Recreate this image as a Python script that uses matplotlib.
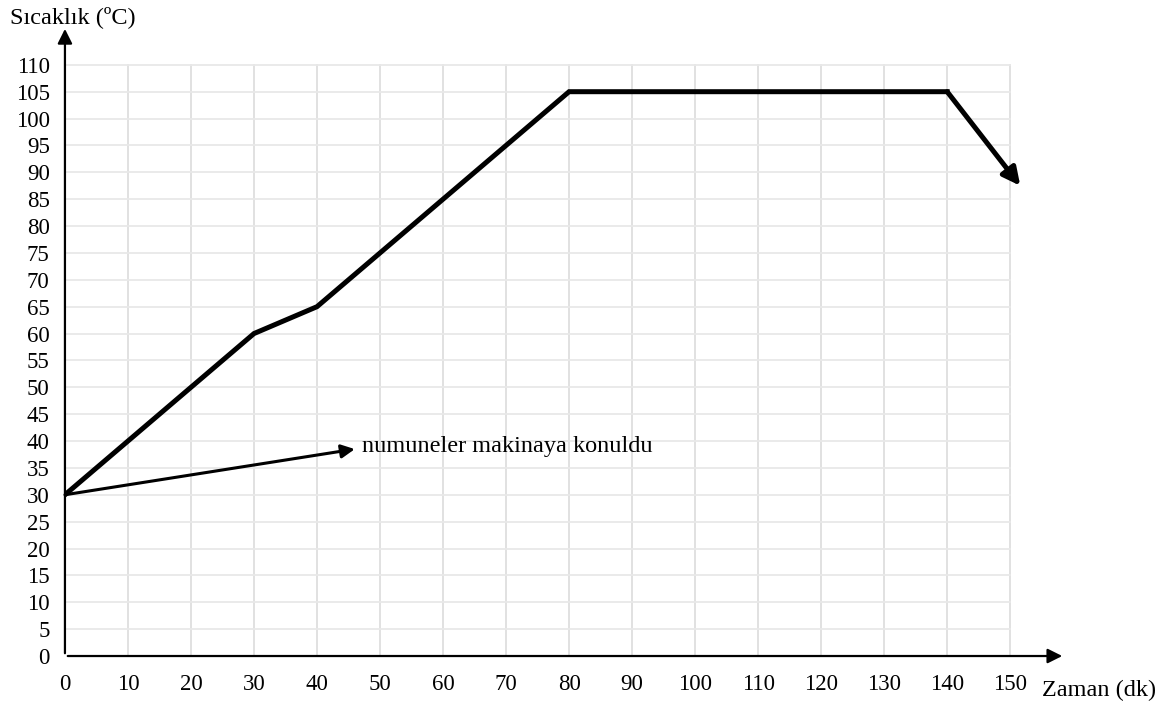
import matplotlib
matplotlib.use("Agg")
from matplotlib import pyplot as plt

# Temperature profile (time in minutes, temperature in C)
times = [0, 30, 40, 80, 140]
temps = [30, 60, 65, 105, 105]
end_arrow = (151.6, 87.5)          # tip of the cooling arrow
note_start = (0, 30)
note_tip = (46, 38.5)
note_text = "numuneler makinaya konuldu"

x_ticks = list(range(0, 151, 10))
y_ticks = list(range(0, 111, 5))

plt.rcParams['font.family'] = ['Liberation Serif', 'DejaVu Serif']

fig = plt.figure(figsize=(11.66, 7.06), dpi=100)
ax = fig.add_axes([0.0557, 0.0708, 0.8577, 0.8922])
ax.set_xlim(0, 158.7)
ax.set_ylim(0, 117.2)

# light grid, only inside the 0..150 / 0..110 box
for x in x_ticks[1:]:
    ax.plot([x, x], [0, 110], color="#dedede", lw=1.3, zorder=1)
for y in y_ticks[1:]:
    ax.plot([0, 150], [y, y], color="#e8e8e8", lw=1.3, zorder=1)

for s in ax.spines.values():
    s.set_visible(False)

# axes with arrows
ax.annotate("", xy=(158.7, 0), xytext=(0, 0),
            arrowprops=dict(arrowstyle="-|>", lw=1.6, color="black", mutation_scale=22),
            annotation_clip=False, zorder=3)
ax.annotate("", xy=(0, 117.2), xytext=(0, 0),
            arrowprops=dict(arrowstyle="-|>", lw=1.6, color="black", mutation_scale=22),
            annotation_clip=False, zorder=3)

ax.set_xticks(x_ticks)
ax.set_yticks(y_ticks)
ax.tick_params(axis="both", length=0, labelsize=16.5)
ax.tick_params(axis="x", pad=13)
ax.tick_params(axis="y", pad=11)

# main curve
ax.plot(times, temps, color="black", lw=3.6, solid_joinstyle="miter", zorder=4)
ax.annotate("", xy=end_arrow, xytext=(times[-1], temps[-1]),
            arrowprops=dict(arrowstyle="-|>", lw=3.6, color="black", mutation_scale=26,
                            shrinkA=0, shrinkB=0),
            annotation_clip=False, zorder=4)

# note arrow
ax.annotate("", xy=note_tip, xytext=note_start,
            arrowprops=dict(arrowstyle="-|>", lw=2.2, color="black", mutation_scale=20,
                            shrinkA=0, shrinkB=0),
            zorder=4)
ax.text(note_tip[0] + 1.2, note_tip[1] + 0.5, note_text, fontsize=17.5, va="center", ha="left")

fig.text(10 / 1166, 1 - 17 / 706, "Sıcaklık (ºC)", fontsize=17.5, va="center", ha="left")
fig.text(1042 / 1166, 1 - 690 / 706, "Zaman (dk)", fontsize=17.5, va="center", ha="left")

fig.savefig("out.png", dpi=100)
